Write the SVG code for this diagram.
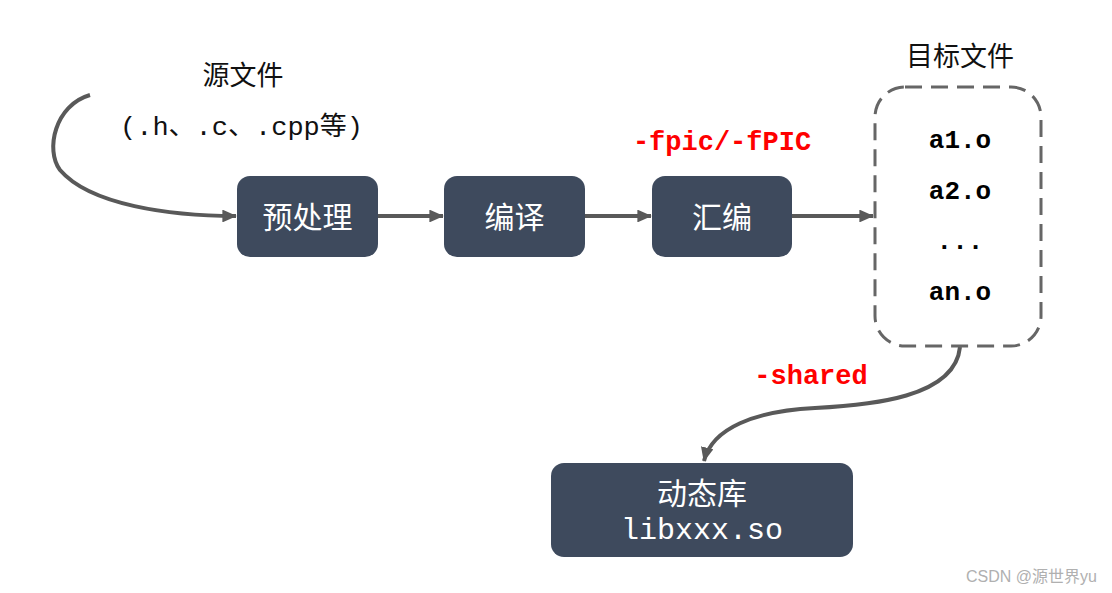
<svg xmlns="http://www.w3.org/2000/svg" width="1112" height="593" viewBox="0 0 1112 593">
<style>
.node{fill:#3e4a5d;}
.nt{fill:#fff;font-family:"Noto Sans CJK SC","Noto Sans",sans-serif;font-size:30px;text-anchor:middle;}
.mono{font-family:"Liberation Mono","Courier New",monospace;}
.red{fill:#ff0000;font-weight:bold;font-size:27px;}
.obj{fill:#000;font-weight:bold;font-size:26px;text-anchor:middle;}
.lbl{fill:#111;font-family:"Noto Sans CJK SC","Noto Sans",sans-serif;font-size:27px;}
.conn{fill:none;stroke:#595959;stroke-width:4;}
</style>
<defs>
<marker id="ah" markerWidth="3.6" markerHeight="3.2" refX="3.4" refY="1.6" orient="auto" markerUnits="strokeWidth">
<path d="M0,0 L3.6,1.6 L0,3.2 z" fill="#595959"/>
</marker>
</defs>
<rect width="1112" height="593" fill="#fff"/>

<g id="source">
<text class="lbl" x="243" y="85" text-anchor="middle">源文件</text>
<text class="mono" x="120" y="135" font-size="26" fill="#111" textLength="243" lengthAdjust="spacingAndGlyphs">(.h<tspan font-family="Noto Sans CJK SC">、</tspan>.c<tspan font-family="Noto Sans CJK SC">、</tspan>.cpp<tspan font-family="Noto Sans CJK SC">等</tspan>)</text>
</g>

<g id="connectors">
<path class="conn" d="M90,95 C55,105 45,150 60,170 C90,205 170,216 236,216" marker-end="url(#ah)"/>
<path class="conn" d="M378,216 L443,216" marker-end="url(#ah)"/>
<path class="conn" d="M585,216 L651,216" marker-end="url(#ah)"/>
<path class="conn" d="M792,216 L873,216" marker-end="url(#ah)"/>
<path class="conn" d="M960,347 C955,398 870,405 815,408 C755,411 712,428 704,461" marker-end="url(#ah)"/>
</g>

<g id="preprocess">
<rect class="node" x="237" y="176" width="141" height="81" rx="13"/>
<text class="nt" x="307.5" y="228">预处理</text>
</g>
<g id="compile">
<rect class="node" x="444" y="176" width="141" height="81" rx="13"/>
<text class="nt" x="514.5" y="228">编译</text>
</g>
<g id="assemble">
<rect class="node" x="652" y="176" width="140" height="81" rx="13"/>
<text class="nt" x="722" y="228">汇编</text>
</g>
<text class="mono red" x="722" y="150" text-anchor="middle">-fpic/-fPIC</text>

<g id="objects">
<text class="lbl" x="960" y="66" text-anchor="middle">目标文件</text>
<rect x="875" y="87" width="166" height="259" rx="30" fill="none" stroke="#666" stroke-width="3" stroke-dasharray="17,9"/>
<text class="mono obj" x="960" y="148">a1.o</text>
<text class="mono obj" x="960" y="199">a2.o</text>
<text class="mono obj" x="960" y="249">...</text>
<text class="mono obj" x="960" y="300">an.o</text>
</g>
<text class="mono red" x="811" y="384" text-anchor="middle">-shared</text>

<g id="dynlib">
<rect class="node" x="551" y="463" width="302" height="94" rx="13"/>
<text class="nt" x="702" y="504">动态库</text>
<text class="mono" x="702" y="539" fill="#fff" font-size="30" text-anchor="middle">libxxx.so</text>
</g>

<text x="1097" y="582" text-anchor="end" fill="#b0b0b0" font-family="'Liberation Sans','Noto Sans CJK SC',sans-serif" font-size="16">CSDN @源世界yu</text>
</svg>
